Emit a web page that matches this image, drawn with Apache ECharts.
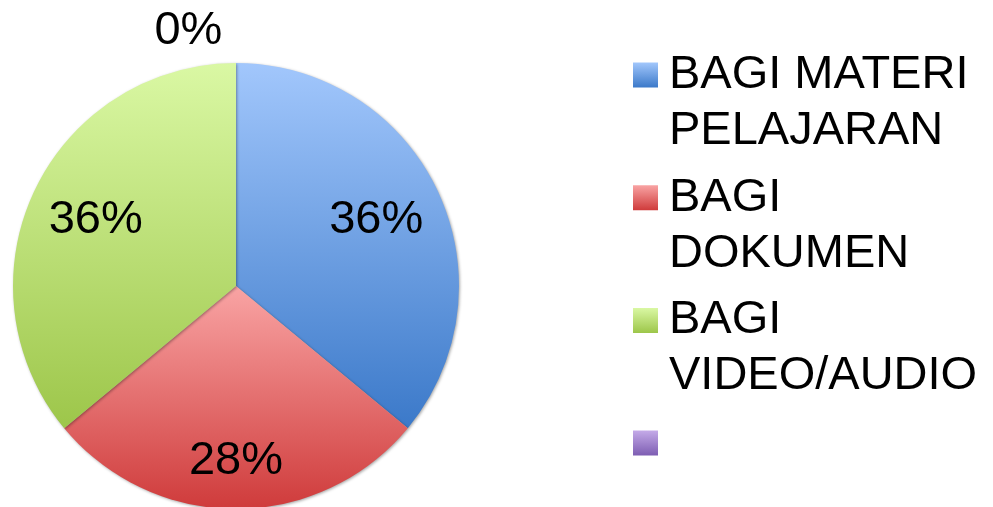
<!DOCTYPE html>
<html>
<head>
<meta charset="utf-8">
<script src="https://cdn.jsdelivr.net/npm/echarts@6/dist/echarts.min.js"></script>
<style>
  html, body { margin: 0; padding: 0; background: #ffffff; }
  #chart { width: 993px; height: 507px; }
</style>
</head>
<body>
<div id="chart"></div>
<script>
// Share of each type (percent)
const categories = ['BAGI MATERI\nPELAJARAN', 'BAGI\nDOKUMEN', 'BAGI\nVIDEO/AUDIO', ' '];
const values = [36, 28, 36, 0];

// Per-slice gradient colours (top -> bottom)
const sliceColors = [
  ['#a2c7fc', '#3b79c9'],
  ['#f9a4a4', '#cf3b3b'],
  ['#daf8a4', '#9dc64a'],
  ['#c4aae8', '#7d5db2']
];

// Label placement: distance from centre and angular nudge (degrees)
const labelRadius = [155, 175, 155, 259];
const labelTurn = [0, 0, 0, -10.6];

const CX = 236, CY = 286, R = 223;
const FONT = '"Liberation Sans", Arial, sans-serif';

function vGrad(c, s0, s1) {
  const stops = [];
  if (s0 > 0) stops.push({ offset: 0, color: c[0] });
  stops.push({ offset: s0, color: c[0] });
  stops.push({ offset: s1, color: c[1] });
  if (s1 < 1) stops.push({ offset: 1, color: c[1] });
  return new echarts.graphic.LinearGradient(0, 0, 0, 1, stops);
}

// Legend icon: square aligned to the first text line of a two-line entry
const ICON_W = 31, ICON_H = 112, SQ = 25, SQ_TOP = 15.5;
const iconPath = 'path://M0,0L' + ICON_W + ',0' +
  'M0,' + SQ_TOP + 'L' + SQ + ',' + SQ_TOP + 'L' + SQ + ',' + (SQ_TOP + SQ) + 'L0,' + (SQ_TOP + SQ) + 'Z' +
  'M0,' + ICON_H + 'L' + ICON_W + ',' + ICON_H;

const chart = echarts.init(document.getElementById('chart'), null, { renderer: 'canvas' });

chart.setOption({
  animation: false,
  backgroundColor: '#ffffff',
  legend: {
    orient: 'vertical',
    left: 633,
    top: 47,
    height: 520,
    padding: 0,
    itemGap: 10.7,
    itemWidth: ICON_W,
    itemHeight: ICON_H,
    icon: iconPath,
    selectedMode: false,
    itemStyle: { borderWidth: 0 },
    textStyle: { fontFamily: FONT, fontSize: 47, lineHeight: 56, color: '#000000' },
    data: categories.map((name, i) => ({
      name: name,
      itemStyle: { color: vGrad(sliceColors[i], SQ_TOP / ICON_H, (SQ_TOP + SQ) / ICON_H), borderWidth: 0 }
    }))
  },
  series: [{
    type: 'pie',
    center: [CX, CY],
    radius: [0, R],
    startAngle: 90,
    clockwise: true,
    silent: true,
    avoidLabelOverlap: false,
    itemStyle: {
      borderWidth: 0,
      shadowBlur: 3,
      shadowColor: 'rgba(0,0,0,0.35)',
      shadowOffsetX: 1,
      shadowOffsetY: 1
    },
    label: {
      show: true,
      position: 'inside',
      fontFamily: FONT,
      fontSize: 47,
      color: '#000000',
      formatter: p => p.value + '%'
    },
    labelLine: { show: false },
    labelLayout: function (p) {
      const i = p.dataIndex;
      const r = p.labelRect;
      let ux = r.x + r.width / 2 - CX, uy = r.y + r.height / 2 - CY;
      const len = Math.hypot(ux, uy) || 1;
      ux /= len; uy /= len;
      const a = labelTurn[i] * Math.PI / 180;
      const vx = ux * Math.cos(a) - uy * Math.sin(a);
      const vy = ux * Math.sin(a) + uy * Math.cos(a);
      return {
        x: CX + vx * labelRadius[i],
        y: CY + vy * labelRadius[i],
        align: 'center',
        verticalAlign: 'middle'
      };
    },
    data: categories.map((name, i) => ({
      name: name,
      value: values[i],
      itemStyle: { color: vGrad(sliceColors[i], 0, 1) }
    }))
  }]
});
</script>
</body>
</html>
